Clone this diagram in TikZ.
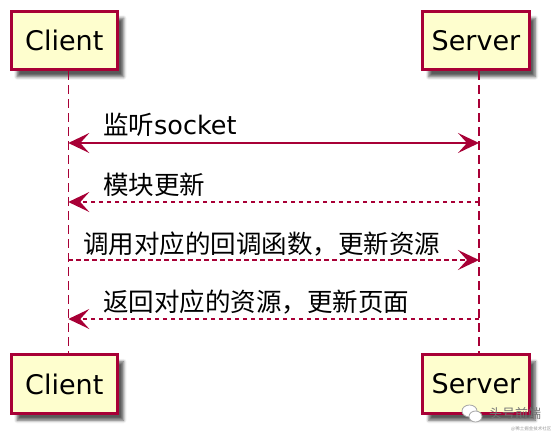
\documentclass[tikz,border=0pt]{standalone}
\usepackage{fontspec}
\setmainfont{DejaVu Sans}
\newfontfamily\cjk{Noto Sans CJK SC}
\usetikzlibrary{arrows.meta,shadows.blur}
\definecolor{pborder}{HTML}{A80036}
\definecolor{pfill}{HTML}{FEFECE}
\begin{document}
\begin{tikzpicture}[x=1pt,y=-1pt,
  part/.style={draw=pborder, fill=pfill, line width=3pt, minimum width=106.5pt, minimum height=58.5pt, inner sep=0pt,
    font=\fontsize{27}{30}\selectfont,
    blur shadow={shadow xshift=6pt, shadow yshift=-7pt, shadow blur radius=3pt, shadow opacity=65}},
  lifeline/.style={draw=pborder, line width=1.6pt, dash pattern=on 9pt off 5pt},
  msg/.style={draw=pborder, line width=1.6pt, >={Stealth[length=21pt,width=20pt,inset=9pt]}},
  dmsg/.style={msg, dash pattern=on 4.5pt off 3.5pt},
  lbl/.style={anchor=base west, inner sep=0pt, font=\fontsize{25.5}{30}\selectfont},
  wmark/.style={draw=gray!70, fill=white, line width=0.8pt}
]
\useasboundingbox (0,0) rectangle (559,440);

% participants
\node[part] (ctop) at (64.3,40.5) {Client};
\node[part] (stop) at (476,40.5) {Server};
\node[part] (cbot) at (64.3,384) {Client};
\node[part] (sbot) at (476,384) {Server};

% lifeline ends
\coordinate (cl1) at (68.3,71);
\coordinate (cl2) at (68.3,353);
\coordinate (sl1) at (479,71);
\coordinate (sl2) at (479,353);
\draw[lifeline] (cl1) -- (cl2);
\draw[lifeline] (sl1) -- (sl2);

% message anchors
\coordinate (c1) at (68.3,143);
\coordinate (s1) at (479,143);
\coordinate (c2) at (68.3,202);
\coordinate (s2) at (479,202);
\coordinate (c3) at (68.3,260);
\coordinate (s3) at (479,260);
\coordinate (c4) at (68.3,319);
\coordinate (s4) at (479,319);

\draw[msg,<->] (c1) -- (s1);
\draw[dmsg,->] (s2) -- (c2);
\draw[dmsg,->] (c3) -- (s3);
\draw[dmsg,->] (s4) -- (c4);

\node[lbl] (l1) at (103,134.5) {{\cjk 监听}socket};
\node[lbl] (l2) at (103,194) {\cjk 模块更新};
\node[lbl] (l3) at (83,253) {\cjk 调用对应的回调函数，更新资源};
\node[lbl] (l4) at (103,311) {\cjk 返回对应的资源，更新页面};

% watermark
\draw[wmark] (469.5,411) ellipse [x radius=7.5pt, y radius=6pt];
\draw[wmark] (475.5,416.5) ellipse [x radius=6.5pt, y radius=5.5pt];
\node[anchor=west, inner sep=0pt, text=gray!90!black, font=\cjk\fontsize{13}{13}\selectfont] (wm) at (489,414) {头号前端};
\node[anchor=west, inner sep=0pt, text=gray!80, font=\cjk\fontsize{4.5}{5}\selectfont] (wm2) at (511,429) {@稀土掘金技术社区};
\end{tikzpicture}
\end{document}
